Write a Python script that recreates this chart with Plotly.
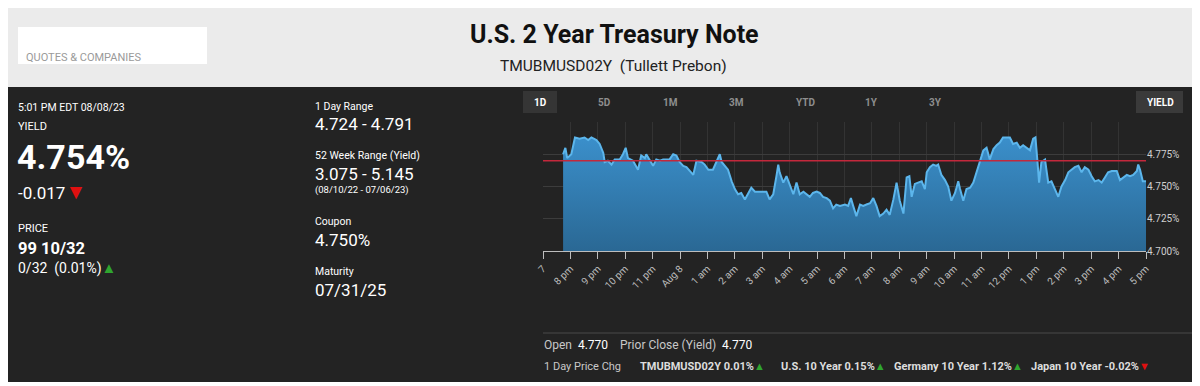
import plotly.graph_objects as go

# ---------------- data ----------------
times = [
    "2023-08-07 19:44", "2023-08-07 19:49", "2023-08-07 19:53", "2023-08-07 20:02", "2023-08-07 20:10",
    "2023-08-07 20:20", "2023-08-07 20:31", "2023-08-07 20:39", "2023-08-07 20:46", "2023-08-07 20:57",
    "2023-08-07 21:04", "2023-08-07 21:12", "2023-08-07 21:15", "2023-08-07 21:22", "2023-08-07 21:30",
    "2023-08-07 21:37", "2023-08-07 21:48", "2023-08-07 21:55", "2023-08-07 22:01", "2023-08-07 22:06",
    "2023-08-07 22:17", "2023-08-07 22:24", "2023-08-07 22:28", "2023-08-07 22:35", "2023-08-07 22:43",
    "2023-08-07 22:46", "2023-08-07 22:54", "2023-08-07 23:01", "2023-08-07 23:08", "2023-08-07 23:16",
    "2023-08-07 23:23", "2023-08-07 23:37", "2023-08-07 23:45", "2023-08-07 23:52", "2023-08-07 23:59",
    "2023-08-08 00:07", "2023-08-08 00:14", "2023-08-08 00:21", "2023-08-08 00:29", "2023-08-08 00:36",
    "2023-08-08 00:47", "2023-08-08 00:54", "2023-08-08 01:02", "2023-08-08 01:12", "2023-08-08 01:20",
    "2023-08-08 01:27", "2023-08-08 01:31", "2023-08-08 01:38", "2023-08-08 01:45", "2023-08-08 01:53",
    "2023-08-08 02:00", "2023-08-08 02:07", "2023-08-08 02:14", "2023-08-08 02:22", "2023-08-08 02:29",
    "2023-08-08 02:36", "2023-08-08 02:44", "2023-08-08 02:55", "2023-08-08 03:09", "2023-08-08 03:16",
    "2023-08-08 03:24", "2023-08-08 03:31", "2023-08-08 03:35", "2023-08-08 03:38", "2023-08-08 03:46",
    "2023-08-08 03:53", "2023-08-08 04:00", "2023-08-08 04:08", "2023-08-08 04:15", "2023-08-08 04:22",
    "2023-08-08 04:30", "2023-08-08 04:37", "2023-08-08 04:44", "2023-08-08 04:51", "2023-08-08 04:59",
    "2023-08-08 05:06", "2023-08-08 05:13", "2023-08-08 05:21", "2023-08-08 05:28", "2023-08-08 05:35",
    "2023-08-08 05:42", "2023-08-08 05:50", "2023-08-08 06:01", "2023-08-08 06:08", "2023-08-08 06:14",
    "2023-08-08 06:19", "2023-08-08 06:26", "2023-08-08 06:34", "2023-08-08 06:41", "2023-08-08 06:48",
    "2023-08-08 06:56", "2023-08-08 07:03", "2023-08-08 07:10", "2023-08-08 07:17", "2023-08-08 07:25",
    "2023-08-08 07:32", "2023-08-08 07:39", "2023-08-08 07:47", "2023-08-08 07:54", "2023-08-08 08:01",
    "2023-08-08 08:09", "2023-08-08 08:16", "2023-08-08 08:22", "2023-08-08 08:27", "2023-08-08 08:34",
    "2023-08-08 08:41", "2023-08-08 08:49", "2023-08-08 08:56", "2023-08-08 09:00", "2023-08-08 09:07",
    "2023-08-08 09:14", "2023-08-08 09:21", "2023-08-08 09:25", "2023-08-08 09:32", "2023-08-08 09:40",
    "2023-08-08 09:47", "2023-08-08 09:54", "2023-08-08 10:02", "2023-08-08 10:09", "2023-08-08 10:13",
    "2023-08-08 10:20", "2023-08-08 10:27", "2023-08-08 10:35", "2023-08-08 10:42", "2023-08-08 10:49",
    "2023-08-08 10:56", "2023-08-08 11:04", "2023-08-08 11:11", "2023-08-08 11:18", "2023-08-08 11:26",
    "2023-08-08 11:33", "2023-08-08 11:40", "2023-08-08 11:47", "2023-08-08 12:02", "2023-08-08 12:09",
    "2023-08-08 12:17", "2023-08-08 12:24", "2023-08-08 12:31", "2023-08-08 12:39", "2023-08-08 12:46",
    "2023-08-08 12:53", "2023-08-08 12:58", "2023-08-08 13:02", "2023-08-08 13:06", "2023-08-08 13:11",
    "2023-08-08 13:19", "2023-08-08 13:22", "2023-08-08 13:26", "2023-08-08 13:33", "2023-08-08 13:41",
    "2023-08-08 13:48", "2023-08-08 13:55", "2023-08-08 14:03", "2023-08-08 14:10", "2023-08-08 14:17",
    "2023-08-08 14:24", "2023-08-08 14:32", "2023-08-08 14:39", "2023-08-08 14:46", "2023-08-08 14:54",
    "2023-08-08 15:01", "2023-08-08 15:08", "2023-08-08 15:16", "2023-08-08 15:23", "2023-08-08 15:30",
    "2023-08-08 15:37", "2023-08-08 15:45", "2023-08-08 15:56", "2023-08-08 16:03", "2023-08-08 16:10",
    "2023-08-08 16:18", "2023-08-08 16:25", "2023-08-08 16:32", "2023-08-08 16:40", "2023-08-08 16:43",
    "2023-08-08 16:47", "2023-08-08 16:53", "2023-08-08 17:00",
]
yields = [
    4.775, 4.780, 4.772, 4.775, 4.788,
    4.787, 4.788, 4.786, 4.788, 4.786,
    4.783, 4.776, 4.769, 4.770, 4.767,
    4.771, 4.771, 4.775, 4.780, 4.772,
    4.770, 4.766, 4.763, 4.774, 4.772,
    4.775, 4.770, 4.766, 4.771, 4.770,
    4.771, 4.771, 4.775, 4.774, 4.769,
    4.766, 4.765, 4.762, 4.759, 4.770,
    4.769, 4.767, 4.763, 4.763, 4.769,
    4.775, 4.769, 4.766, 4.763, 4.754,
    4.748, 4.744, 4.745, 4.740, 4.744,
    4.749, 4.746, 4.746, 4.746, 4.740,
    4.744, 4.758, 4.767, 4.761, 4.753,
    4.758, 4.752, 4.744, 4.753, 4.744,
    4.746, 4.744, 4.742, 4.745, 4.746,
    4.745, 4.742, 4.741, 4.739, 4.733,
    4.736, 4.735, 4.736, 4.735, 4.741,
    4.735, 4.727, 4.736, 4.735, 4.736,
    4.737, 4.741, 4.735, 4.727, 4.729,
    4.732, 4.728, 4.740, 4.753, 4.739,
    4.729, 4.757, 4.758, 4.742, 4.752,
    4.753, 4.754, 4.748, 4.761, 4.765,
    4.767, 4.766, 4.767, 4.759, 4.755,
    4.750, 4.739, 4.745, 4.754, 4.748,
    4.739, 4.748, 4.749, 4.753, 4.761,
    4.770, 4.778, 4.780, 4.771, 4.779,
    4.782, 4.784, 4.788, 4.788, 4.783,
    4.784, 4.780, 4.782, 4.780, 4.778,
    4.787, 4.788, 4.771, 4.753, 4.769,
    4.771, 4.763, 4.753, 4.754, 4.748,
    4.742, 4.750, 4.755, 4.761, 4.763,
    4.765, 4.766, 4.761, 4.765, 4.763,
    4.758, 4.754, 4.755, 4.753, 4.757,
    4.761, 4.762, 4.762, 4.755, 4.757,
    4.759, 4.758, 4.759, 4.762, 4.767,
    4.763, 4.754, 4.754,
]
prior_close = 4.770

tick_vals = [
    "2023-08-07 19:00", "2023-08-07 20:00", "2023-08-07 21:00", "2023-08-07 22:00", "2023-08-07 23:00",
    "2023-08-08 00:00", "2023-08-08 01:00", "2023-08-08 02:00", "2023-08-08 03:00", "2023-08-08 04:00",
    "2023-08-08 05:00", "2023-08-08 06:00", "2023-08-08 07:00", "2023-08-08 08:00", "2023-08-08 09:00",
    "2023-08-08 10:00", "2023-08-08 11:00", "2023-08-08 12:00", "2023-08-08 13:00", "2023-08-08 14:00",
    "2023-08-08 15:00", "2023-08-08 16:00", "2023-08-08 17:00",
]
tick_text = [
    "7", "8 pm", "9 pm", "10 pm", "11 pm", "Aug 8", "1 am", "2 am", "3 am", "4 am", "5 am", "6 am",
    "7 am", "8 am", "9 am", "10 am", "11 am", "12 pm", "1 pm", "2 pm", "3 pm", "4 pm", "5 pm",
]
y_tick_vals = [4.700, 4.725, 4.750, 4.775, 4.800]
y_tick_text = ["4.700%", "4.725%", "4.750%", "4.775%", ""]

range_buttons = ["1D", "5D", "1M", "3M", "YTD", "1Y", "3Y"]

# ---------------- layout helpers ----------------
# The page places the figure 8px from the window's top-left corner,
# so positions below are window pixels and the figure is 8px smaller.
OFF = 8
W, H = 1200 - OFF, 386 - OFF
SL, SR, ST, SB = 543, 1146, 122, 251      # plot area in window pixels
L, R, T, B = SL - OFF, W - (SR - OFF), ST - OFF, H - (SB - OFF)

def px(x):
    return (x - SL) / (SR - SL)

def py(y):
    return (SB - y) / (SB - ST)

FONT = "Roboto, 'Open Sans', sans-serif"

annotations = []
shapes = []

def txt(x, y, s, size, color="#ffffff", anchor="left"):
    annotations.append(dict(
        x=px(x), y=py(y), xref="paper", yref="paper", text=s, showarrow=False,
        xanchor=anchor, yanchor="middle", borderpad=0,
        font=dict(size=size, color=color, family=FONT),
    ))

def rect(x0, y0, x1, y1, color):
    shapes.append(dict(type="rect", xref="paper", yref="paper", x0=px(x0), x1=px(x1),
                       y0=py(y1), y1=py(y0), fillcolor=color, line=dict(width=0), layer="below"))

# backgrounds
rect(0, 0, 1210, 87, "#ebebeb")
rect(18, 27, 207, 64, "#ffffff")
rect(0, 382, 1210, 400, "#ffffff")
rect(1197, 87, 1210, 382, "#e6e6e6")

# header
txt(25, 57, "QUOTES &amp; COMPANIES", 11, "#9a9a9a")
txt(614, 35, "<b>U.S. 2 Year Treasury Note</b>", 25, "#111111", "center")
txt(613, 66, "TMUBMUSD02Y  (Tullett Prebon)", 15.5, "#222222", "center")

# left column
txt(17, 107, "5:01 PM EDT 08/08/23", 10.5)
txt(17, 126, "YIELD", 11)
txt(16, 157, "<b>4.754%</b>", 34)
txt(17, 192, "-0.017<span style='color:#e01010;font-size:21px'>▼</span>", 17)
txt(17, 228, "PRICE", 11)
txt(17, 248, "<b>99 10/32</b>", 16.5)
txt(17, 268, "0/32  (0.01%)<span style='color:#2fa52f;font-size:15px'>▲</span>", 14)

# middle column
txt(314, 106, "1 Day Range", 10.5)
txt(314, 124, "4.724 - 4.791", 17)
txt(314, 155, "52 Week Range (Yield)", 10.5)
txt(314, 174, "3.075 - 5.145", 17)
txt(314, 190, "(08/10/22 - 07/06/23)", 9.5)
txt(314, 221, "Coupon", 10.5)
txt(314, 240, "4.750%", 17)
txt(314, 271, "Maturity", 10.5)
txt(314, 290, "07/31/25", 17)

# range buttons
rect(523, 91, 557, 113, "#353535")
rect(1136, 91, 1183, 113, "#3a3a3a")
btn_x = [540, 604, 670, 736, 805, 871, 935]
for bx, lab in zip(btn_x, range_buttons):
    txt(bx, 102, "<b>%s</b>" % lab, 10, "#ffffff" if lab == "1D" else "#8e8e8e", "center")
txt(1160, 102, "<b>YIELD</b>", 10, "#ffffff", "center")

# bottom info
shapes.append(dict(type="line", xref="paper", yref="paper", x0=px(543), x1=px(1210),
                   y0=py(333), y1=py(333), line=dict(color="#4a4a4a", width=1)))
txt(543, 345, "Open  <span style='color:#ffffff'>4.770</span>    Prior Close (Yield)  <span style='color:#ffffff'>4.770</span>", 12, "#c8c8c8")
txt(543, 366, "1 Day Price Chg", 11, "#c8c8c8")
txt(639, 366, "<b>TMUBMUSD02Y 0.01%</b><span style='color:#2fa52f'>▲</span>", 11, "#dddddd")
txt(780, 366, "<b>U.S. 10 Year 0.15%</b><span style='color:#2fa52f'>▲</span>", 11, "#dddddd")
txt(893, 366, "<b>Germany 10 Year 1.12%</b><span style='color:#2fa52f'>▲</span>", 11, "#dddddd")
txt(1030, 366, "<b>Japan 10 Year -0.02%</b><span style='color:#e01010'>▼</span>", 11, "#dddddd")

# prior close line
shapes.append(dict(type="line", xref="paper", yref="y", x0=0, x1=1, y0=prior_close, y1=prior_close,
                   line=dict(color="#c3283c", width=1.5), layer="above"))

# ---------------- figure ----------------
fig = go.Figure()
fig.add_trace(go.Scatter(
    x=times, y=yields, mode="lines", fill="tozeroy",
    line=dict(color="#5cb6ec", width=2),
    fillgradient=dict(type="vertical", start=4.70, stop=4.79,
                      colorscale=[[0, "#2a6894"], [1, "#3b90cc"]]),
    hoverinfo="skip",
))

fig.update_layout(
    width=W, height=H,
    margin=dict(l=L, r=R, t=T, b=B),
    paper_bgcolor="#232323", plot_bgcolor="#232323",
    showlegend=False, hovermode=False,
    annotations=annotations, shapes=shapes,
    font=dict(family=FONT, color="#cccccc"),
    xaxis=dict(
        range=["2023-08-07 19:00", "2023-08-08 17:00"],
        tickmode="array", tickvals=tick_vals, ticktext=tick_text,
        tickangle=-45, tickfont=dict(size=10, color="#bdbdbd"),
        ticks="outside", ticklen=7, tickcolor="#bdbdbd", tickwidth=1,
        showline=True, linecolor="#bdbdbd", linewidth=1,
        showgrid=True, gridcolor="#333333", gridwidth=1, zeroline=False,
        fixedrange=True,
    ),
    yaxis=dict(
        range=[4.700, 4.800], side="right",
        tickmode="array", tickvals=y_tick_vals, ticktext=y_tick_text,
        tickfont=dict(size=10, color="#cfcfcf"), ticks="",
        showgrid=True, gridcolor="#3c3c3c", gridwidth=1, zeroline=False,
        showline=False, fixedrange=True,
    ),
)

fig.write_html("out.html")
